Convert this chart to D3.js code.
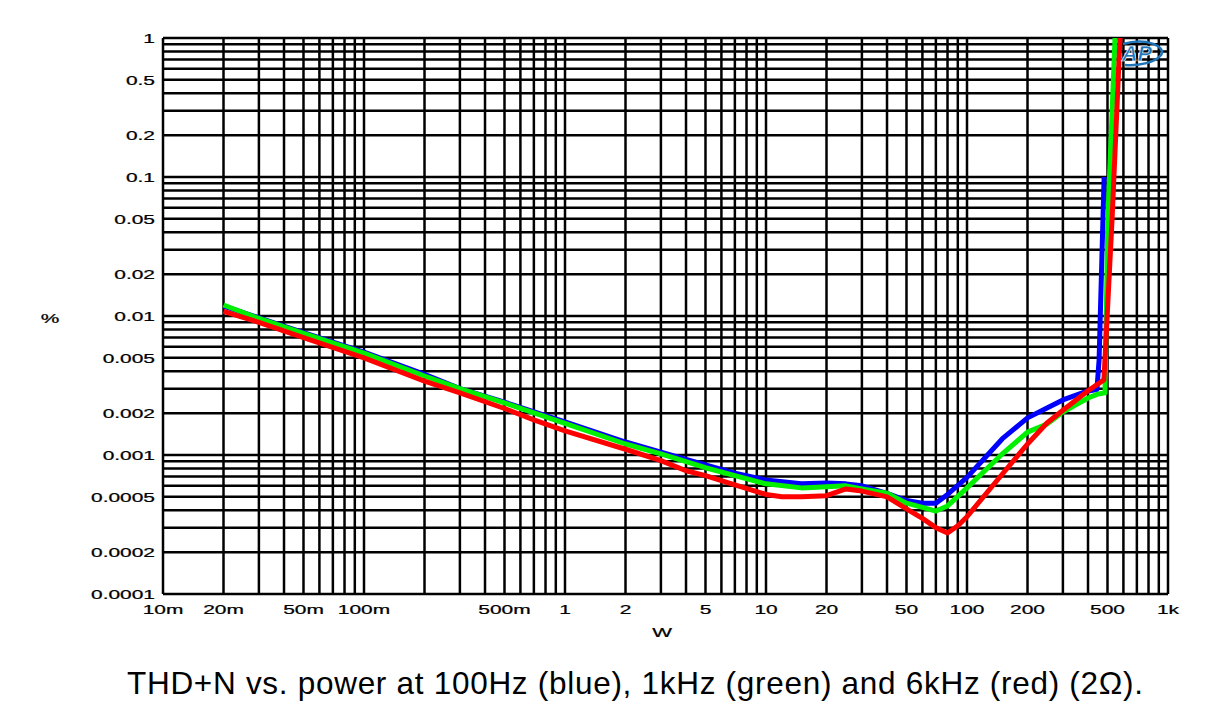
<!DOCTYPE html>
<html>
<head>
<meta charset="utf-8">
<script src="https://cdn.jsdelivr.net/npm/d3@7"></script>
<style>
  body { margin: 0; background: #fff; }
  svg { display: block; font-family: "Liberation Sans", Arial, sans-serif; }
</style>
</head>
<body>
<div id="visual"></div>
<script>
var w = 1211, h = 721;

// tick labels
var xTickVals = [0.01, 0.02, 0.05, 0.1, 0.5, 1, 2, 5, 10, 20, 50, 100, 200, 500, 1000];
var xTickText = ["10m", "20m", "50m", "100m", "500m", "1", "2", "5", "10", "20", "50", "100", "200", "500", "1k"];
var yTickVals = [1, 0.5, 0.2, 0.1, 0.05, 0.02, 0.01, 0.005, 0.002, 0.001, 0.0005, 0.0002, 0.0001];
var yTickText = ["1", "0.5", "0.2", "0.1", "0.05", "0.02", "0.01", "0.005", "0.002", "0.001", "0.0005", "0.0002", "0.0001"];

// 100Hz (blue)
var powerBlue = [0.02, 0.03, 0.05, 0.1, 0.2, 0.3, 0.5, 1, 2, 3, 5, 7, 10, 15, 20, 25, 30, 40, 50, 60, 70, 80, 100, 150, 200, 250, 300, 400, 443, 454, 481];
var thdBlue = [0.0118, 0.0097, 0.0076, 0.0055, 0.0038, 0.0030, 0.0024, 0.00173, 0.00124, 0.00105, 0.00085, 0.00074, 0.00066, 0.00062, 0.00063, 0.00062, 0.00060, 0.00053, 0.00047, 0.00045, 0.00045, 0.00052, 0.00069, 0.00131, 0.00185, 0.00218, 0.00249, 0.00289, 0.00296, 0.0048, 0.1];

// 1kHz (green)
var powerGreen = [0.02, 0.03, 0.05, 0.1, 0.2, 0.3, 0.5, 1, 2, 3, 5, 7, 10, 15, 20, 25, 30, 40, 50, 60, 70, 80, 100, 150, 200, 250, 300, 400, 450, 486, 502, 545, 555];
var thdGreen = [0.0120, 0.0096, 0.0075, 0.0054, 0.0037, 0.0030, 0.00237, 0.00169, 0.00120, 0.00102, 0.00081, 0.00071, 0.00062, 0.00058, 0.00059, 0.00060, 0.00057, 0.00053, 0.00045, 0.00042, 0.000395, 0.00043, 0.00058, 0.00102, 0.00146, 0.00167, 0.00204, 0.00257, 0.00275, 0.0028, 0.05, 1.0, 2.0];

// 6kHz (red)
var powerRed = [0.02, 0.03, 0.05, 0.1, 0.2, 0.3, 0.5, 0.7, 1, 2, 3, 4, 5, 7, 10, 12, 15, 20, 25, 30, 40, 50, 60, 70, 80, 90, 100, 150, 200, 250, 300, 400, 480, 527, 577, 590];
var thdRed = [0.0108, 0.0090, 0.0070, 0.0050, 0.0034, 0.0028, 0.00216, 0.00179, 0.00149, 0.0011, 0.00091, 0.00077, 0.00071, 0.00061, 0.00052, 0.00050, 0.00050, 0.00051, 0.00057, 0.00055, 0.00050, 0.00041, 0.00035, 0.00030, 0.000275, 0.00031, 0.00036, 0.00073, 0.0012, 0.0017, 0.0021, 0.0029, 0.00347, 0.05, 1.0, 2.0];

var margin = {left: 163, right: 1168, top: 38, bottom: 594};

var x = d3.scaleLog().domain([0.01, 1000]).range([margin.left, margin.right]);
var y = d3.scaleLog().domain([0.0001, 1]).range([margin.bottom, margin.top]);

var svg = d3.select("#visual").append("svg")
  .attr("width", w)
  .attr("height", h);

svg.append("defs").append("clipPath").attr("id", "plot")
  .append("rect")
  .attr("x", margin.left).attr("y", margin.top)
  .attr("width", margin.right - margin.left)
  .attr("height", margin.bottom - margin.top);

// gridlines at 1..9 of every decade
var xGrid = [], yGrid = [];
for (var e = -2; e <= 2; e++) for (var k = 1; k <= 9; k++) xGrid.push(k * Math.pow(10, e));
xGrid.push(1000);
for (var e = -4; e <= -1; e++) for (var k = 1; k <= 9; k++) yGrid.push(k * Math.pow(10, e));
yGrid.push(1);

var grid = svg.append("g").attr("stroke", "#000").attr("stroke-width", 2.5);
grid.selectAll("line.v").data(xGrid).enter().append("line")
  .attr("class", "v")
  .attr("x1", function(d){ return x(d); }).attr("x2", function(d){ return x(d); })
  .attr("y1", margin.top).attr("y2", margin.bottom);
grid.selectAll("line.h").data(yGrid).enter().append("line")
  .attr("class", "h")
  .attr("y1", function(d){ return y(d); }).attr("y2", function(d){ return y(d); })
  .attr("x1", margin.left).attr("x2", margin.right);

// wide stretched labels like the analyzer output
function label(px, py, txt, anchor) {
  svg.append("g")
    .attr("transform", "translate(" + px + "," + py + ") scale(1.55,1)")
    .append("text")
    .attr("text-anchor", anchor)
    .attr("font-size", 13.5)
    .attr("fill", "#000")
    .attr("stroke", "#000").attr("stroke-width", 0.25)
    .text(txt);
}

xTickVals.forEach(function(d, i){ label(x(d), 614, xTickText[i], "middle"); });
yTickVals.forEach(function(d, i){ label(155, y(d) + 5, yTickText[i], "end"); });
label(50, 323, "%", "middle");
label(662, 637, "W", "middle");

// curves
var line = d3.line()
  .x(function(d){ return x(d[0]); })
  .y(function(d){ return y(d[1]); });

var series = [
  {c: "#0000ff", p: powerBlue, v: thdBlue},
  {c: "#00f000", p: powerGreen, v: thdGreen},
  {c: "#ff0000", p: powerRed, v: thdRed}
];

var curves = svg.append("g").attr("clip-path", "url(#plot)");
series.forEach(function(s){
  curves.append("path")
    .datum(d3.zip(s.p, s.v))
    .attr("d", line)
    .attr("fill", "none")
    .attr("stroke", s.c)
    .attr("stroke-width", 5)
    .attr("stroke-linejoin", "round");
});

// AP logo
var logo = svg.append("g").attr("transform", "translate(1137,61)");
logo.append("path")
  .attr("d", "M -14 -17 C 10 -24, 30 -14, 24 -6 C 18 2, 0 5, -12 4")
  .attr("fill", "none").attr("stroke", "#1f74b8").attr("stroke-width", 2.5);
logo.append("text")
  .attr("text-anchor", "middle")
  .attr("font-size", 22)
  .attr("font-weight", "bold")
  .attr("font-style", "italic")
  .attr("fill", "#1f74b8")
  .attr("stroke", "#fff").attr("stroke-width", 0.6)
  .text("AP");

// caption
svg.append("text")
  .attr("x", 127).attr("y", 694)
  .attr("font-size", 31.5)
  .attr("textLength", 1016)
  .attr("lengthAdjust", "spacing")
  .attr("fill", "#000")
  .text("THD+N vs. power at 100Hz (blue), 1kHz (green) and 6kHz (red) (2Ω).");
</script>
</body>
</html>
